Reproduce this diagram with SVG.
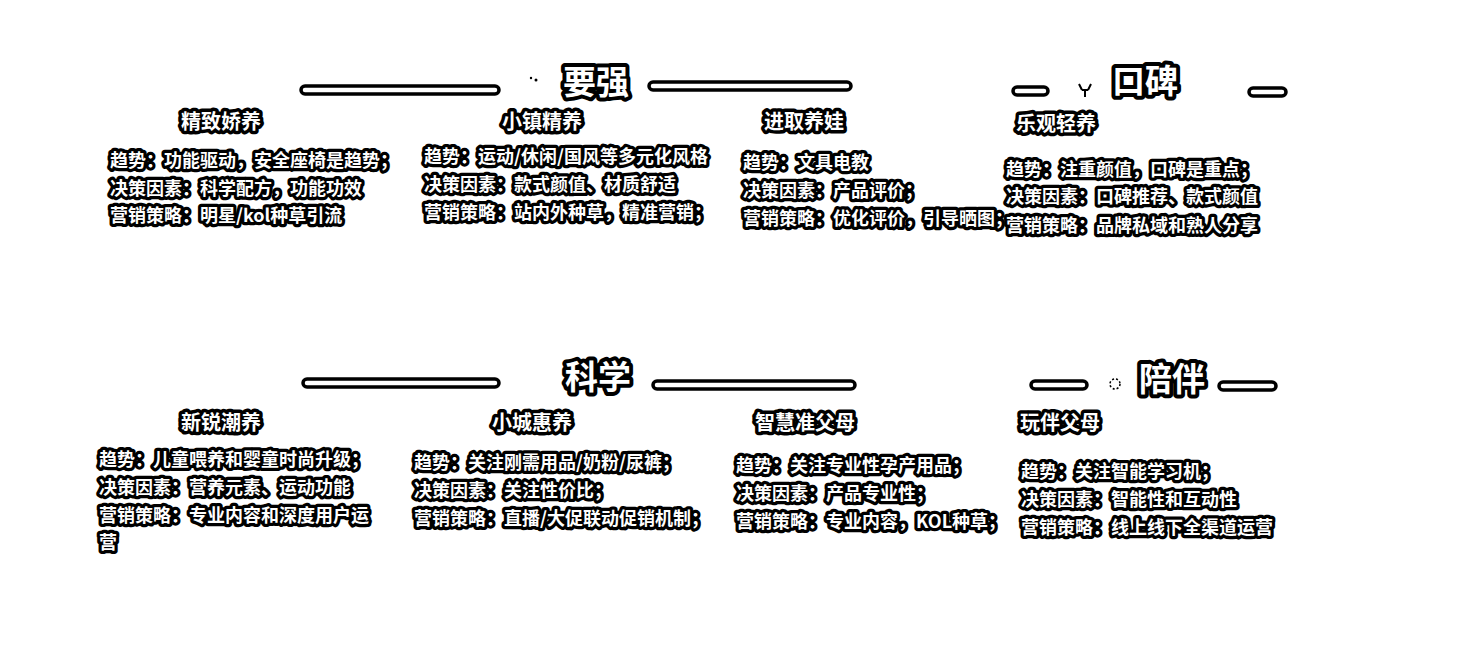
<svg xmlns="http://www.w3.org/2000/svg" width="1460" height="666" viewBox="0 0 1460 666">
<style>
text{font-family:"Noto Sans CJK SC","Noto Sans",sans-serif;font-weight:700;fill:#fff;stroke:#000;stroke-linejoin:round;paint-order:stroke}
.t{font-size:33px;stroke-width:8px;text-anchor:middle}
.h{font-size:20px;stroke-width:7px;text-anchor:middle}
.b{font-size:18px;stroke-width:6.5px}
.ln{fill:#fff;stroke:#000;stroke-width:3.5;}
.sp{fill:#000}
</style>
<rect width="1460" height="666" fill="#fff"/>
<g id="connectors">
<rect class="ln" x="301" y="86" width="198" height="8" rx="4"/>
<rect class="ln" x="649" y="82" width="202" height="8" rx="4"/>
<rect class="ln" x="1013" y="87" width="35" height="8" rx="4"/>
<rect class="ln" x="1249" y="88" width="37" height="8" rx="4"/>
<rect class="ln" x="303" y="379" width="196" height="8" rx="4"/>
<rect class="ln" x="653" y="381" width="202" height="8" rx="4"/>
<rect class="ln" x="1031" y="381" width="56" height="8" rx="4"/>
<rect class="ln" x="1219" y="382" width="57" height="8" rx="4"/>
</g>
<g id="icons">
<circle class="sp" cx="531" cy="78" r="1.2"/><circle class="sp" cx="536" cy="80" r="1.5"/>
<path d="M1079 84 l3 6 M1091 84 l-3 6 M1082 90 h6 M1085 90 v7" stroke="#000" stroke-width="2" fill="none"/>
<circle cx="1115" cy="384" r="5" fill="none" stroke="#000" stroke-width="1.5" stroke-dasharray="2 2"/>
</g>
<g id="title-yaoqiang"><text class="t" x="596" y="94">要强</text></g>
<g id="title-koubei"><text class="t" x="1145" y="93">口碑</text></g>
<g id="title-kexue"><text class="t" x="598" y="389">科学</text></g>
<g id="title-peiban"><text class="t" x="1172" y="391">陪伴</text></g>

<g id="node-jingzhi">
<text class="h" x="221" y="129">精致娇养</text>
<text class="b" x="110" y="167">趋势：功能驱动，安全座椅是趋势；</text>
<text class="b" x="110" y="195">决策因素：科学配方，功能功效</text>
<text class="b" x="110" y="222">营销策略：明星/kol种草引流</text>
</g>
<g id="node-xiaozhen">
<text class="h" x="542" y="129">小镇精养</text>
<text class="b" x="424" y="163">趋势：运动/休闲/国风等多元化风格</text>
<text class="b" x="424" y="191">决策因素：款式颜值、材质舒适</text>
<text class="b" x="424" y="219">营销策略：站内外种草，精准营销；</text>
</g>
<g id="node-jinqu">
<text class="h" x="804" y="129">进取养娃</text>
<text class="b" x="743" y="169">趋势：文具电教</text>
<text class="b" x="743" y="197">决策因素：产品评价；</text>
<text class="b" x="743" y="225">营销策略：优化评价，引导晒图；</text>
</g>
<g id="node-leguan">
<text class="h" x="1056" y="131">乐观轻养</text>
<text class="b" x="1006" y="176">趋势：注重颜值，口碑是重点；</text>
<text class="b" x="1006" y="203">决策因素：口碑推荐、款式颜值</text>
<text class="b" x="1006" y="232">营销策略：品牌私域和熟人分享</text>
</g>

<g id="node-xinrui">
<text class="h" x="221" y="430">新锐潮养</text>
<text class="b" x="99" y="466">趋势：儿童喂养和婴童时尚升级；</text>
<text class="b" x="99" y="494">决策因素：营养元素、运动功能</text>
<text class="b" x="99" y="522">营销策略：专业内容和深度用户运</text>
<text class="b" x="99" y="549">营</text>
</g>
<g id="node-xiaocheng">
<text class="h" x="532" y="430">小城惠养</text>
<text class="b" x="414" y="469">趋势：关注刚需用品/奶粉/尿裤；</text>
<text class="b" x="414" y="497">决策因素：关注性价比；</text>
<text class="b" x="414" y="525">营销策略：直播/大促联动促销机制；</text>
</g>
<g id="node-zhihui">
<text class="h" x="805" y="430">智慧准父母</text>
<text class="b" x="736" y="472">趋势：关注专业性孕产用品；</text>
<text class="b" x="736" y="500">决策因素：产品专业性；</text>
<text class="b" x="736" y="528">营销策略：专业内容，KOL种草；</text>
</g>
<g id="node-wanban">
<text class="h" x="1060" y="430">玩伴父母</text>
<text class="b" x="1021" y="478">趋势：关注智能学习机；</text>
<text class="b" x="1021" y="506">决策因素：智能性和互动性</text>
<text class="b" x="1021" y="534">营销策略：线上线下全渠道运营</text>
</g>
</svg>
